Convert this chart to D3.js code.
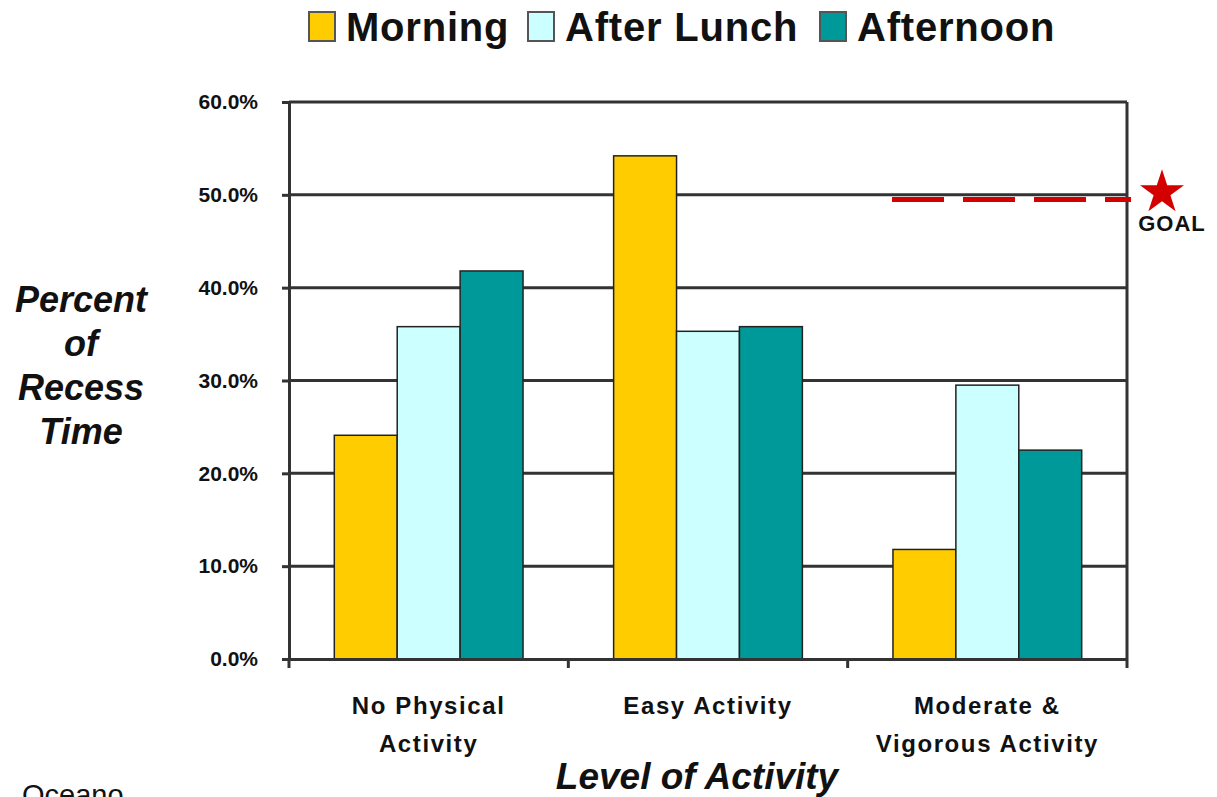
<!DOCTYPE html>
<html>
<head>
<meta charset="utf-8">
<script src="https://cdn.jsdelivr.net/npm/d3@7"></script>
<style>
  body { margin: 0; background: #fff; }
  text { font-family: "Liberation Sans", Arial, sans-serif; }
</style>
</head>
<body>
<div id="viz"></div>
<script>
// chart data
var categories = [["No Physical", "Activity"], ["Easy Activity"], ["Moderate &", "Vigorous Activity"]];
var seriesNames = ["Morning", "After Lunch", "Afternoon"];
var seriesColors = ["#ffcc00", "#ccffff", "#009999"];
var morning = [24.1, 54.2, 11.8];
var afterLunch = [35.8, 35.3, 29.5];
var afternoon = [41.8, 35.8, 22.5];
var yTicks = [0, 10, 20, 30, 40, 50, 60];
var goalValue = 49.5;

var width = 1217, height = 797;
var margin = {top: 102, right: 90, bottom: 138, left: 289};

var values = [morning, afterLunch, afternoon];
var catKeys = categories.map(function(c) { return c.join(" "); });

var svg = d3.select('#viz').append('svg')
  .attr('width', width)
  .attr('height', height);

// scales
var x0 = d3.scaleBand()
  .domain(catKeys)
  .range([margin.left, width - margin.right])
  .padding(0);

var x1 = d3.scaleBand()
  .domain(seriesNames)
  .range([0, x0.bandwidth()])
  .paddingInner(0)
  .paddingOuter(0.72);

var y = d3.scaleLinear()
  .domain([0, 60])
  .range([height - margin.bottom, margin.top]);

// gridlines
svg.append('g')
  .selectAll('line')
  .data(yTicks.slice(1))
  .join('line')
  .attr('x1', margin.left)
  .attr('x2', width - margin.right)
  .attr('y1', d => y(d))
  .attr('y2', d => y(d))
  .attr('stroke', '#333')
  .attr('stroke-width', 3);

// right border
svg.append('line')
  .attr('x1', width - margin.right)
  .attr('x2', width - margin.right)
  .attr('y1', y(60))
  .attr('y2', y(0))
  .attr('stroke', '#333')
  .attr('stroke-width', 3);

// bars
var groups = svg.append('g')
  .selectAll('g')
  .data(catKeys)
  .join('g')
  .attr('transform', d => 'translate(' + x0(d) + ',0)');

groups.selectAll('rect')
  .data((d, i) => seriesNames.map((s, j) => ({series: s, value: values[j][i], color: seriesColors[j]})))
  .join('rect')
  .attr('x', d => x1(d.series))
  .attr('y', d => y(d.value))
  .attr('width', x1.bandwidth())
  .attr('height', d => y(0) - y(d.value))
  .attr('fill', d => d.color)
  .attr('stroke', '#222')
  .attr('stroke-width', 1.5);

// y axis
var yAxis = svg.append('g')
  .attr('transform', 'translate(' + margin.left + ',0)')
  .call(d3.axisLeft(y).tickValues(yTicks).tickSize(7).tickPadding(24)
    .tickFormat(d => d3.format('.1f')(d) + '%'));
yAxis.select('.domain').attr('stroke', '#333').attr('stroke-width', 3);
yAxis.selectAll('.tick line').attr('stroke', '#333').attr('stroke-width', 3);
yAxis.selectAll('.tick text')
  .attr('font-size', 21)
  .attr('font-weight', 'bold')
  .attr('fill', '#111');

// x axis
var xAxis = svg.append('g')
  .attr('transform', 'translate(0,' + y(0) + ')')
  .call(d3.axisBottom(x0).tickSize(0).tickFormat(''));
xAxis.select('.domain').attr('stroke', '#333').attr('stroke-width', 3);

// category boundary ticks
var bounds = catKeys.map(k => x0(k)).concat([x0.range()[1]]);
svg.append('g')
  .selectAll('line')
  .data(bounds)
  .join('line')
  .attr('x1', d => d)
  .attr('x2', d => d)
  .attr('y1', y(0))
  .attr('y2', y(0) + 9)
  .attr('stroke', '#333')
  .attr('stroke-width', 3);

// category labels
var catLabels = svg.append('g')
  .selectAll('text')
  .data(categories)
  .join('text')
  .attr('x', (d, i) => x0(catKeys[i]) + x0.bandwidth() / 2)
  .attr('y', 714)
  .attr('text-anchor', 'middle')
  .attr('font-size', 24)
  .attr('font-weight', 'bold')
  .attr('letter-spacing', 1.6)
  .attr('fill', '#111');
catLabels.selectAll('tspan')
  .data(d => d)
  .join('tspan')
  .attr('x', function() { return d3.select(this.parentNode).attr('x'); })
  .attr('dy', (d, i) => i === 0 ? 0 : 38)
  .text(d => d);

// axis titles
svg.append('text')
  .attr('x', 697)
  .attr('y', 789)
  .attr('text-anchor', 'middle')
  .attr('font-size', 37)
  .attr('font-weight', 'bold')
  .attr('font-style', 'italic')
  .attr('fill', '#111')
  .text('Level of Activity');

var yTitle = ['Percent', 'of', 'Recess', 'Time'];
svg.append('g')
  .selectAll('text')
  .data(yTitle)
  .join('text')
  .attr('x', 81)
  .attr('y', (d, i) => 312 + i * 44)
  .attr('text-anchor', 'middle')
  .attr('font-size', 36)
  .attr('font-weight', 'bold')
  .attr('font-style', 'italic')
  .attr('fill', '#111')
  .text(d => d);

// goal line
svg.append('line')
  .attr('x1', 892)
  .attr('x2', 1131)
  .attr('y1', y(goalValue))
  .attr('y2', y(goalValue))
  .attr('stroke', '#d40000')
  .attr('stroke-width', 5)
  .attr('stroke-dasharray', '52,19');

svg.append('path')
  .attr('d', d3.symbol().type(d3.symbolStar).size(600)())
  .attr('transform', 'translate(1162,' + (y(goalValue) - 7) + ')')
  .attr('fill', '#d40000');

svg.append('text')
  .attr('x', 1172)
  .attr('y', 231)
  .attr('text-anchor', 'middle')
  .attr('font-size', 22)
  .attr('font-weight', 'bold')
  .attr('letter-spacing', 1)
  .attr('fill', '#111')
  .text('GOAL');

// legend
var legendX = [309, 528, 820];
var legend = svg.append('g')
  .selectAll('g')
  .data(seriesNames)
  .join('g')
  .attr('transform', (d, i) => 'translate(' + legendX[i] + ',12)');
legend.append('rect')
  .attr('width', 26)
  .attr('height', 29)
  .attr('fill', (d, i) => seriesColors[i])
  .attr('stroke', '#555')
  .attr('stroke-width', 2);
legend.append('text')
  .attr('x', 37)
  .attr('y', 29)
  .attr('font-size', 40)
  .attr('font-weight', 'bold')
  .attr('letter-spacing', 0.8)
  .attr('fill', '#111')
  .text(d => d);

// source note, cut off at the bottom edge as in the original
svg.append('text')
  .attr('x', 22)
  .attr('y', 805)
  .attr('font-size', 29)
  .attr('fill', '#111')
  .text('Oceano');
</script>
</body>
</html>
